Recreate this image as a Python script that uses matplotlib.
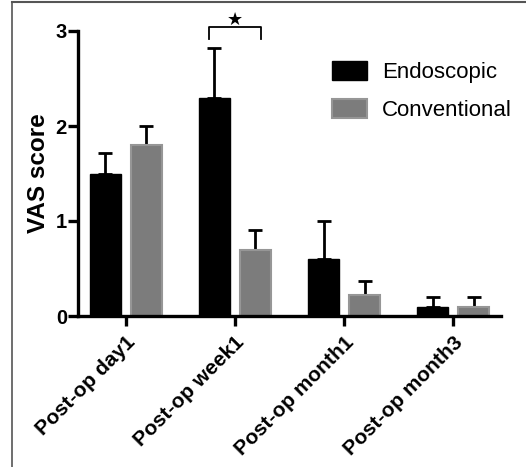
import matplotlib
matplotlib.use("Agg")
import matplotlib.pyplot as plt
import numpy as np
from matplotlib.lines import Line2D

categories = ["Post-op day1", "Post-op week1", "Post-op month1", "Post-op month3"]
endo_mean = [1.5, 2.3, 0.6, 0.1]
endo_err = [0.22, 0.52, 0.40, 0.10]
conv_mean = [1.8, 0.7, 0.22, 0.1]
conv_err = [0.20, 0.21, 0.15, 0.10]
series_names = ["Endoscopic", "Conventional"]
yticks = [0, 1, 2, 3]

plt.rcParams['font.family'] = ['Liberation Sans', 'DejaVu Sans']

fig = plt.figure(figsize=(5.26, 4.67), dpi=100)
ax = fig.add_axes([78/526, 1 - 316/467, (501-78)/526, (316-31)/467])

x = np.arange(len(categories))
w = 0.285
off = 0.188
ax.bar(x - off, endo_mean, w, color='black', edgecolor='black', linewidth=1, label=series_names[0], zorder=2)
ax.bar(x + off, conv_mean, w, color='#7c7c7c', edgecolor='#969696', linewidth=1.5, label=series_names[1], zorder=2)
ax.errorbar(x - off, endo_mean, yerr=[np.zeros(4), endo_err], fmt='none', ecolor='black',
            elinewidth=2, capsize=4.8, capthick=2, zorder=1)
ax.errorbar(x + off, conv_mean, yerr=[np.zeros(4), conv_err], fmt='none', ecolor='black',
            elinewidth=2, capsize=4.8, capthick=2, zorder=1)

ax.set_xlim(-0.44, 3.44)
ax.set_ylim(0, 3)
ax.set_yticks(yticks)
ax.set_yticklabels([str(t) for t in yticks], fontsize=14.5, fontweight='bold')
ax.set_xticks(x)
ax.set_xticklabels(categories, rotation=45, ha='right', rotation_mode='anchor',
                   fontsize=15, fontweight='bold')
for s in ['top', 'right']:
    ax.spines[s].set_visible(False)
for s in ['left', 'bottom']:
    ax.spines[s].set_linewidth(2.4)
ax.tick_params(axis='y', width=2.4, length=7, pad=1)
ax.tick_params(axis='x', width=2.4, length=7, pad=5)
ax.set_ylabel("VAS score", fontsize=17.5, fontweight='bold', labelpad=4)

# significance bracket
bx0, bx1, btop, bbot = 0.76, 1.24, 3.04, 2.92
ax.plot([bx0, bx0, bx1, bx1], [bbot, btop, btop, bbot], color='black', lw=1.3, clip_on=False)
ax.text(1.0, 3.115, "★", ha='center', va='center', fontsize=13, family='DejaVu Sans', clip_on=False)

leg = ax.legend(loc='upper left', bbox_to_anchor=((334-78)/423 - 0.025, (316-52)/285),
                frameon=False, fontsize=16, handlelength=1.55, handleheight=0.95,
                labelspacing=0.7, handletextpad=0.7, borderaxespad=0)

# image frame
fig.add_artist(Line2D([12/526, 1], [1 - 2/467, 1 - 2/467], color='#555555', lw=1.5))
fig.add_artist(Line2D([12/526, 12/526], [0, 1 - 2/467], color='#555555', lw=1.2))

fig.savefig("out.png", dpi=100)
